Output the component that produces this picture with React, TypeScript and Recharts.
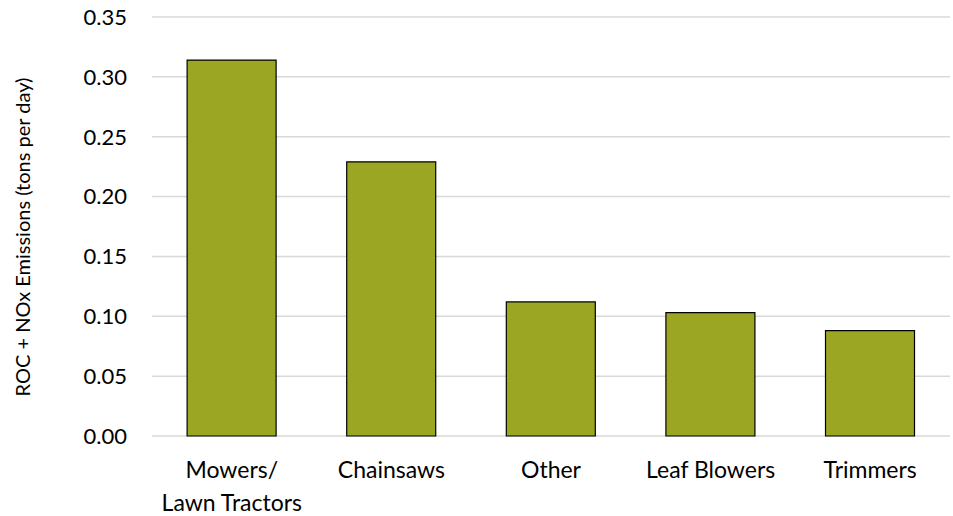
import React from "react";
import { BarChart, Bar, XAxis, YAxis, CartesianGrid } from "recharts";

const categories = ["Mowers/ Lawn Tractors", "Chainsaws", "Other", "Leaf Blowers", "Trimmers"];
const emissions = [0.314, 0.229, 0.112, 0.103, 0.088];
const yTicks = [0, 0.05, 0.1, 0.15, 0.2, 0.25, 0.3, 0.35];

const data = categories.map((name, i) => ({ name, value: emissions[i] }));

const FONT = "Lato, 'Open Sans', sans-serif";

function CategoryTick(props: any) {
  const { x, y, payload } = props;
  const label: string = payload.value;
  const lines = label.includes("/ ") ? [label.split("/ ")[0] + "/", label.split("/ ")[1]] : [label];
  return (
    <text x={x} y={y} textAnchor="middle" fill="#000" fontSize={23} fontFamily={FONT}>
      {lines.map((l, i) => (
        <tspan key={i} x={x} dy={i === 0 ? 34 : 33}>
          {l}
        </tspan>
      ))}
    </text>
  );
}

function YLabel() {
  return (
    <text
      x={22}
      y={237}
      transform="rotate(-90, 22, 237)"
      textAnchor="middle"
      dominantBaseline="central"
      fontSize={20}
      fontFamily={FONT}
      fill="#000"
    >
      ROC + NOx Emissions (tons per day)
    </text>
  );
}

export default function App() {
  return (
    <div style={{ position: "absolute", left: 0, top: 0, background: "#fff" }}>
      <BarChart
        width={953}
        height={516}
        data={data}
        margin={{ top: 17, right: 3, left: 0, bottom: 0 }}
        barCategoryGap="22%"
      >
        <CartesianGrid vertical={false} stroke="#d9d9d9" strokeWidth={1.5} />
        <XAxis
          dataKey="name"
          axisLine={false}
          tickLine={false}
          interval={0}
          tick={<CategoryTick />}
          height={80}
        />
        <YAxis
          width={152}
          domain={[0, 0.35]}
          ticks={yTicks}
          tickFormatter={(v: number) => v.toFixed(2)}
          axisLine={false}
          tickLine={false}
          tickMargin={19}
          tick={{ fontSize: 22, fill: "#000", fontFamily: FONT }}
          label={<YLabel />}
        />
        <Bar dataKey="value" fill="#9ba722" stroke="#000" strokeWidth={1.2} isAnimationActive={false} />
      </BarChart>
    </div>
  );
}
